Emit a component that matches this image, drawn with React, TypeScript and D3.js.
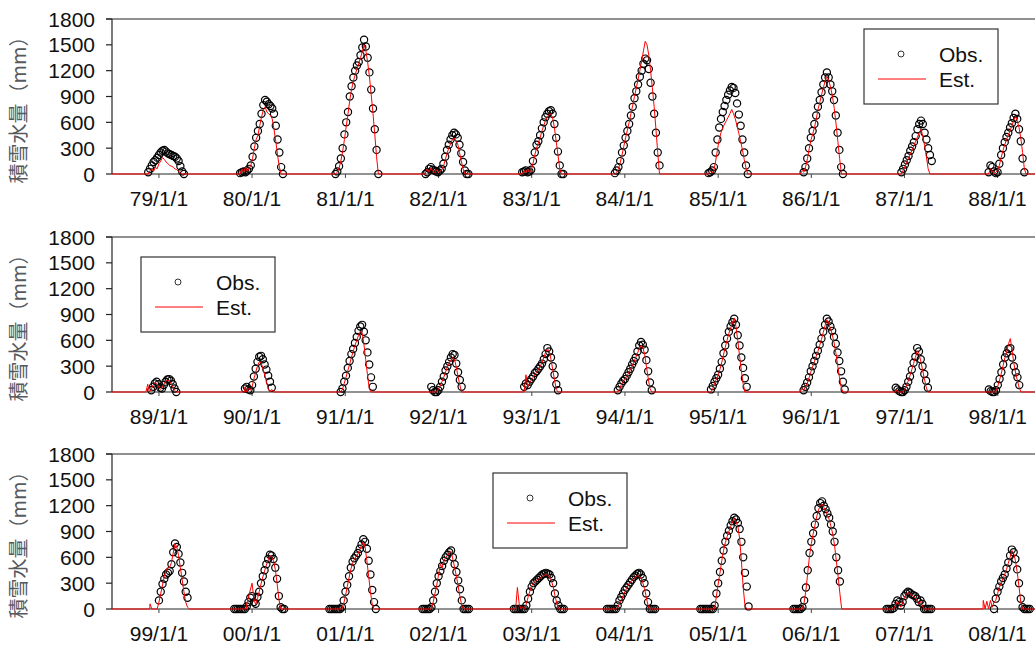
import React, { useEffect, useRef } from 'react'
import * as d3 from 'd3'

// each season: [tick year, first day relative to Jan 1 of that year, weekly values (mm)]
type Season = [number, number, number[]]

const yTicks = [0, 300, 600, 900, 1200, 1500, 1800]

const years1 = [1979, 1980, 1981, 1982, 1983, 1984, 1985, 1986, 1987, 1988]
const years2 = [1989, 1990, 1991, 1992, 1993, 1994, 1995, 1996, 1997, 1998]
const years3 = [1999, 2000, 2001, 2002, 2003, 2004, 2005, 2006, 2007, 2008]

const labels1 = ['79/1/1', '80/1/1', '81/1/1', '82/1/1', '83/1/1', '84/1/1', '85/1/1', '86/1/1', '87/1/1', '88/1/1']
const labels2 = ['89/1/1', '90/1/1', '91/1/1', '92/1/1', '93/1/1', '94/1/1', '95/1/1', '96/1/1', '97/1/1', '98/1/1']
const labels3 = ['99/1/1', '00/1/1', '01/1/1', '02/1/1', '03/1/1', '04/1/1', '05/1/1', '06/1/1', '07/1/1', '08/1/1']

const obs1: Season[] = [
  [1979, -42, [20, 60, 100, 140, 160, 190, 220, 250, 270, 280, 260, 240, 230, 220, 210, 200, 180, 150, 90, 30, 0]],
  [1980, -47, [10, 20, 30, 20, 40, 60, 100, 200, 320, 420, 500, 580, 700, 800, 860, 840, 810, 790, 760, 700, 560, 400, 250, 80, 0]],
  [1981, -39, [0, 30, 90, 180, 300, 460, 600, 720, 900, 1020, 1120, 1200, 1260, 1300, 1380, 1470, 1560, 1480, 1350, 1180, 980, 760, 520, 280, 0]],
  [1982, -51, [0, 20, 60, 80, 50, 40, 30, 20, 40, 60, 120, 200, 280, 340, 400, 450, 480, 460, 420, 340, 240, 140, 40, 0, 0]],
  [1983, -37, [20, 30, 40, 20, 30, 50, 150, 250, 340, 380, 450, 530, 600, 660, 700, 730, 740, 700, 580, 420, 260, 100, 0, 0]],
  [1984, -39, [10, 40, 80, 150, 250, 330, 420, 500, 580, 680, 780, 880, 960, 1040, 1130, 1200, 1280, 1340, 1320, 1220, 1060, 900, 700, 480, 250, 100]],
  [1985, -38, [10, 20, 40, 80, 250, 400, 540, 640, 720, 790, 860, 920, 970, 1010, 1000, 940, 820, 690, 560, 400, 250, 100, 0]],
  [1986, -30, [20, 80, 180, 300, 420, 500, 580, 680, 780, 860, 950, 1040, 1120, 1180, 1120, 1040, 960, 860, 680, 480, 280, 80, 0]],
  [1987, -12, [20, 60, 110, 160, 210, 270, 320, 370, 440, 520, 580, 620, 580, 480, 400, 300, 220, 150]],
  [1988, -35, [20, 100, 80, 30, 10, 20, 120, 220, 300, 370, 430, 480, 540, 590, 650, 700, 640, 520, 380, 180, 20]],
]
const est1: Season[] = [
  [1979, -42, [0, 40, 60, 30, 80, 60, 120, 150, 190, 170, 140, 120, 100, 90, 80, 60, 50, 30, 10, 0]],
  [1980, -47, [0, 60, 20, 80, 30, 60, 100, 180, 300, 400, 450, 560, 660, 740, 780, 720, 700, 680, 640, 520, 380, 220, 80, 0]],
  [1981, -39, [0, 20, 70, 150, 260, 400, 550, 700, 860, 980, 1080, 1150, 1220, 1280, 1350, 1420, 1500, 1430, 1300, 1130, 920, 700, 460, 200, 0]],
  [1982, -51, [30, 60, 20, 70, 40, 10, 50, 20, 30, 50, 90, 160, 240, 300, 350, 400, 420, 380, 350, 250, 150, 60, 0]],
  [1983, -37, [0, 40, 10, 60, 20, 40, 120, 220, 300, 360, 420, 500, 560, 620, 660, 690, 700, 650, 540, 380, 220, 60, 0]],
  [1984, -39, [0, 20, 60, 130, 220, 320, 420, 510, 600, 700, 800, 900, 1000, 1100, 1200, 1310, 1430, 1540, 1500, 1380, 1200, 1000, 780, 520, 250, 0]],
  [1985, -38, [0, 30, 10, 40, 150, 280, 400, 480, 540, 580, 620, 660, 700, 750, 700, 640, 560, 470, 380, 280, 170, 70, 0]],
  [1986, -43, [0, 40, 20, 90, 180, 300, 400, 470, 550, 650, 760, 840, 930, 1010, 1090, 1130, 1080, 1000, 900, 760, 580, 380, 180, 0]],
  [1987, -12, [0, 40, 90, 140, 180, 230, 280, 330, 380, 430, 480, 520, 440, 330, 200, 60, 0]],
  [1988, -35, [0, 60, 40, 0, 20, 40, 100, 190, 270, 340, 400, 450, 500, 560, 620, 670, 620, 540, 420, 250, 60, 0]],
]

const obs2: Season[] = [
  [1989, -30, [20, 60, 100, 120, 90, 50, 40, 80, 120, 145, 150, 130, 90, 40, 0]],
  [1990, -28, [40, 60, 30, 20, 80, 180, 270, 350, 410, 420, 380, 320, 260, 190, 120, 50]],
  [1991, -18, [0, 40, 120, 190, 280, 360, 440, 500, 570, 640, 710, 760, 780, 700, 600, 460, 320, 170, 60]],
  [1992, -28, [60, 20, 0, 0, 20, 60, 120, 180, 250, 300, 350, 400, 440, 430, 330, 230, 140, 60]],
  [1993, -30, [60, 100, 80, 120, 150, 180, 220, 240, 270, 300, 330, 380, 440, 510, 470, 400, 300, 200, 90, 20]],
  [1994, -28, [20, 60, 100, 130, 150, 190, 230, 270, 320, 360, 400, 470, 540, 580, 550, 490, 370, 240, 110, 20]],
  [1995, -28, [30, 70, 120, 160, 200, 270, 350, 450, 540, 620, 700, 760, 810, 850, 780, 660, 540, 400, 280, 160, 60]],
  [1996, -30, [20, 60, 110, 170, 240, 300, 360, 420, 480, 550, 620, 700, 780, 850, 820, 760, 710, 640, 560, 460, 360, 240, 120, 30]],
  [1997, -35, [50, 30, 10, 0, 0, 20, 60, 120, 180, 260, 340, 410, 510, 470, 380, 300, 210, 130, 50]],
  [1998, -35, [30, 10, 0, 0, 20, 80, 150, 230, 320, 400, 450, 500, 510, 400, 300, 230, 170, 80]],
]
const est2: Season[] = [
  [1989, -51, [0, 90, 0, 30, 80, 110, 100, 60, 30, 50, 90, 120, 140, 130, 100, 60, 20, 0]],
  [1990, -28, [60, 0, 40, 20, 60, 150, 230, 300, 350, 340, 280, 200, 120, 40, 0, 30, 0]],
  [1991, -18, [0, 30, 100, 170, 250, 320, 400, 470, 540, 600, 660, 700, 690, 560, 380, 200, 40, 0]],
  [1992, -28, [0, 0, 0, 10, 30, 70, 120, 170, 230, 290, 330, 370, 400, 380, 290, 180, 80, 0]],
  [1993, -30, [0, 200, 60, 100, 140, 170, 200, 230, 260, 300, 340, 400, 460, 500, 480, 380, 260, 140, 30, 0]],
  [1994, -28, [0, 30, 90, 120, 150, 180, 220, 260, 300, 350, 400, 450, 500, 540, 520, 440, 300, 160, 40, 0]],
  [1995, -28, [0, 40, 100, 150, 190, 260, 340, 430, 520, 600, 680, 740, 800, 860, 760, 600, 420, 250, 100, 0]],
  [1996, -44, [0, 40, 20, 60, 100, 160, 230, 290, 350, 410, 470, 540, 610, 690, 770, 840, 800, 740, 670, 580, 460, 320, 180, 60, 0]],
  [1997, -35, [30, 0, 0, 0, 0, 30, 70, 130, 190, 260, 330, 400, 480, 450, 360, 260, 160, 60, 0]],
  [1998, -35, [0, 0, 0, 0, 10, 70, 140, 220, 310, 400, 470, 560, 620, 480, 330, 220, 130, 50, 0]],
]

const obs3: Season[] = [
  [1999, 0, [100, 200, 290, 350, 400, 420, 440, 520, 660, 760, 720, 640, 540, 420, 320, 200, 130]],
  [2000, -70, [0, 0, 0, 0, 0, 0, 0, 30, 80, 130, 150, 80, 60, 140, 200, 300, 380, 450, 520, 580, 630, 620, 580, 480, 350, 150, 20, 0, 0]],
  [2001, -63, [0, 0, 0, 0, 0, 0, 0, 20, 100, 200, 280, 380, 480, 550, 590, 620, 650, 700, 750, 810, 780, 700, 560, 400, 220, 80, 0]],
  [2002, -63, [0, 0, 0, 0, 0, 20, 100, 200, 300, 380, 440, 500, 560, 600, 630, 660, 680, 600, 520, 430, 330, 230, 100, 0, 0, 0, 0]],
  [2003, -70, [0, 0, 0, 0, 0, 0, 0, 40, 120, 200, 260, 300, 320, 340, 360, 380, 400, 410, 420, 410, 400, 360, 300, 180, 100, 40, 0, 0, 0]],
  [2004, -70, [0, 0, 0, 0, 0, 0, 40, 100, 140, 180, 220, 250, 280, 310, 340, 370, 390, 410, 420, 400, 360, 300, 180, 80, 0, 0, 0, 0]],
  [2005, -70, [0, 0, 0, 0, 0, 0, 0, 0, 40, 180, 300, 430, 560, 680, 780, 850, 910, 970, 1020, 1060, 1040, 1000, 930, 780, 600, 420, 260, 30]],
  [2006, -70, [0, 0, 0, 0, 0, 20, 100, 250, 450, 650, 780, 880, 980, 1080, 1170, 1230, 1250, 1200, 1160, 1110, 1060, 980, 900, 780, 600, 450, 320]],
  [2007, -70, [0, 0, 0, 0, 10, 60, 100, 80, 40, 80, 150, 180, 200, 190, 170, 160, 150, 120, 80, 100, 60, 0, 0, 0, 0, 0]],
  [2008, -14, [0, 120, 200, 260, 320, 360, 400, 470, 540, 620, 690, 660, 580, 460, 300, 120, 20, 0, 0, 0, 0]],
]
const est3: Season[] = [
  [1999, -35, [60, 0, 0, 0, 0, 80, 180, 280, 380, 450, 480, 480, 540, 650, 760, 720, 620, 480, 340, 200, 80, 20, 0]],
  [2000, -21, [60, 140, 220, 300, 120, 50, 120, 200, 290, 370, 440, 510, 570, 620, 600, 560, 460, 300, 120, 0]],
  [2001, -14, [0, 60, 150, 260, 360, 460, 530, 580, 610, 640, 690, 740, 780, 720, 560, 380, 200, 50, 0]],
  [2002, -28, [0, 80, 180, 280, 400, 520, 480, 560, 600, 620, 650, 670, 580, 480, 380, 260, 140, 40, 0]],
  [2003, -63, [0, 250, 60, 0, 20, 0, 60, 140, 210, 270, 300, 320, 340, 350, 360, 380, 390, 400, 390, 370, 330, 260, 160, 70, 0]],
  [2004, -35, [0, 20, 60, 100, 150, 200, 240, 280, 310, 330, 350, 370, 390, 380, 360, 310, 240, 140, 40, 0]],
  [2005, -14, [0, 150, 290, 420, 560, 680, 770, 840, 900, 960, 1010, 1050, 1010, 960, 820, 560, 250, 40, 0]],
  [2006, -35, [0, 80, 220, 420, 620, 760, 870, 970, 1070, 1150, 1200, 1220, 1180, 1140, 1090, 1040, 960, 870, 740, 560, 380, 180, 0]],
  [2007, -42, [0, 40, 90, 60, 20, 70, 140, 170, 190, 180, 160, 150, 130, 100, 60, 90, 40, 0]],
  [2008, -56, [100, 0, 90, 0, 100, 20, 80, 100, 180, 250, 300, 350, 400, 460, 530, 600, 680, 650, 560, 430, 260, 80, 0]],
]

const panels = [
  { top: 19, years: years1, labels: labels1, obs: obs1, est: est1, legend: [864, 29] },
  { top: 237, years: years2, labels: labels2, obs: obs2, est: est2, legend: [141, 257] },
  { top: 454, years: years3, labels: labels3, obs: obs3, est: est3, legend: [493, 473] },
]

const DAY = 86400000
const toPoints = (seasons: Season[]) =>
  seasons.flatMap(([yr, off, vals]) =>
    vals.map((v, i) => ({ t: new Date(Date.UTC(yr, 0, 1) + (off + i * 7) * DAY), v }))
  )

const App = () => {
  const ref = useRef<SVGSVGElement>(null)

  useEffect(() => {
    const svg = d3.select(ref.current)
    svg.selectAll('*').remove()
    const numFont = '"Liberation Sans", Arial, sans-serif'
    const left = 112
    const plotW = 932
    const plotH = 155

    panels.forEach(p => {
      const bottom = p.top + plotH
      const y0 = p.years[0]
      const x = d3.scaleUtc()
        .domain([new Date(Date.UTC(y0 - 1, 6, 1)), new Date(Date.UTC(y0 + 9, 6, 1))])
        .range([left, left + plotW])
      const y = d3.scaleLinear().domain([0, 1800]).range([bottom, p.top])
      const g = svg.append('g')

      // frame top + x axis
      g.append('line').attr('x1', 106).attr('x2', left + plotW).attr('y1', p.top).attr('y2', p.top)
        .attr('stroke', '#222').attr('stroke-width', 1.2)
      g.append('line').attr('x1', left).attr('x2', left + plotW).attr('y1', bottom).attr('y2', bottom)
        .attr('stroke', '#6e6e6e').attr('stroke-width', 1.5)

      // y axis
      g.append('line').attr('x1', left).attr('x2', left).attr('y1', p.top).attr('y2', bottom)
        .attr('stroke', '#222').attr('stroke-width', 1.2)
      yTicks.forEach(v => {
        g.append('line').attr('x1', 106).attr('x2', left).attr('y1', y(v)).attr('y2', y(v))
          .attr('stroke', '#222').attr('stroke-width', 1.2)
        g.append('text').text(v).attr('x', 95).attr('y', y(v) + 7.5)
          .attr('text-anchor', 'end').attr('font-family', numFont).attr('font-size', 21).attr('fill', '#111')
      })

      // x ticks + labels
      p.years.forEach((yr, i) => {
        const tx = x(new Date(Date.UTC(yr, 0, 1)))
        g.append('line').attr('x1', tx).attr('x2', tx).attr('y1', bottom).attr('y2', bottom + 4)
          .attr('stroke', '#444')
        g.append('text').text(p.labels[i]).attr('x', tx).attr('y', bottom + 32)
          .attr('text-anchor', 'middle').attr('font-family', numFont).attr('font-size', 21).attr('fill', '#111')
      })

      // y title
      g.append('text').text('積雪水量（mm）')
        .attr('transform', `translate(26, ${p.top + 86}) rotate(-90)`)
        .attr('text-anchor', 'middle').attr('font-family', '"Noto Sans CJK JP", sans-serif')
        .attr('font-size', 20).attr('fill', '#56595e')

      // observations
      g.append('g').selectAll('circle').data(toPoints(p.obs)).enter().append('circle')
        .attr('cx', d => x(d.t)).attr('cy', d => y(d.v)).attr('r', 3.6)
        .attr('fill', 'none').attr('stroke', '#000').attr('stroke-width', 1.2)

      // estimate line, zero between seasons
      const estPts: { t: Date; v: number }[] = [{ t: x.domain()[0], v: 0 }]
      p.est.forEach(s => {
        const pts = toPoints([s])
        estPts.push({ t: new Date(+pts[0].t - DAY), v: 0 })
        estPts.push(...pts)
        estPts.push({ t: new Date(+pts[pts.length - 1].t + DAY), v: 0 })
      })
      estPts.push({ t: x.domain()[1], v: 0 })
      const line = d3.line<{ t: Date; v: number }>().x(d => x(d.t)).y(d => y(d.v))
      g.append('path').attr('d', line(estPts)).attr('fill', 'none')
        .attr('stroke', '#ff0000').attr('stroke-width', 1)

      // legend
      const [lx, ly] = p.legend
      const lg = g.append('g').attr('transform', `translate(${lx}, ${ly})`)
      lg.append('rect').attr('x', 0).attr('y', 0).attr('width', 134).attr('height', 75)
        .attr('fill', '#fff').attr('stroke', '#333').attr('stroke-width', 1.2)
      lg.append('circle').attr('cx', 37).attr('cy', 25).attr('r', 3)
        .attr('fill', 'none').attr('stroke', '#333').attr('stroke-width', 1)
      lg.append('line').attr('x1', 14).attr('x2', 62).attr('y1', 50).attr('y2', 50)
        .attr('stroke', '#ff0000').attr('stroke-width', 1)
      lg.append('text').text('Obs.').attr('x', 75).attr('y', 33)
        .attr('font-family', numFont).attr('font-size', 21).attr('fill', '#111')
      lg.append('text').text('Est.').attr('x', 75).attr('y', 58)
        .attr('font-family', numFont).attr('font-size', 21).attr('fill', '#111')
    })
  }, [])

  return (
    <svg ref={ref} width={1035} height={645}
      style={{ position: 'absolute', left: 0, top: 0, background: '#fff' }} />
  )
}

export default App
